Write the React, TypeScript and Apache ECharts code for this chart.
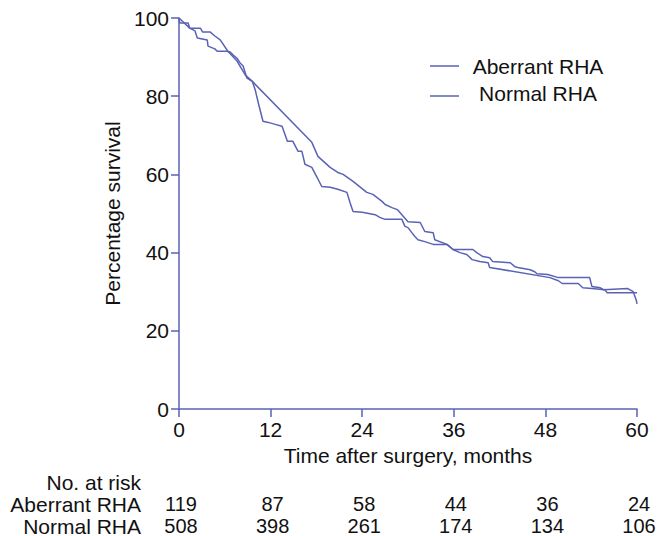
import React, { useEffect, useRef } from "react";
import * as echarts from "echarts";

const aberrantMonths = [0, 1.4, 2.8, 3.1, 4.1, 4.7, 5.4, 6.4, 7.6, 8.7, 9.6, 17.4, 18.2, 19.8, 20.8, 21.5, 22.8, 24.6, 25.4, 26.6, 27.0, 27.9, 28.6, 29.2, 30.0, 31.6, 32.2, 33.3, 33.5, 35.1, 35.9, 36.8, 37.7, 38.4, 39.4, 40.5, 40.7, 48.6, 49.7, 50.2, 52.3, 52.9, 54.1, 55.8, 56.1, 60];
const aberrantSurvival = [100, 97.4, 97.4, 96.4, 96.4, 95.4, 94.4, 91.5, 89.0, 85.4, 83.8, 68.2, 64.6, 61.8, 60.5, 60.0, 58.2, 55.4, 54.9, 53.1, 52.3, 51.5, 51.0, 49.7, 47.9, 47.7, 45.4, 45.1, 43.3, 42.1, 40.8, 40.0, 39.5, 38.2, 37.7, 37.4, 36.2, 33.6, 32.8, 32.1, 32.1, 31.0, 30.8, 30.5, 29.7, 29.7];

const normalMonths = [0, 0.1, 1.2, 1.4, 2.1, 2.4, 3.7, 3.8, 4.7, 5.0, 6.3, 6.7, 7.1, 7.6, 8.0, 8.4, 8.9, 9.6, 10.0, 10.4, 11.0, 11.7, 12.6, 13.5, 14.2, 14.9, 15.6, 16.1, 16.5, 17.4, 18.1, 18.7, 19.8, 20.8, 22.0, 22.4, 22.8, 24.0, 25.7, 26.3, 27.0, 29.2, 29.6, 30.0, 30.5, 30.9, 31.3, 32.2, 33.3, 35.1, 35.9, 38.5, 39.0, 39.8, 40.7, 41.1, 43.4, 44.0, 44.4, 46.0, 46.6, 46.9, 48.3, 49.7, 53.8, 54.1, 55.2, 55.6, 58.8, 59.5, 59.9, 60];
const normalSurvival = [100, 98.7, 98.7, 97.4, 96.7, 94.9, 94.4, 92.8, 92.1, 91.5, 91.5, 91.3, 90.5, 89.7, 88.5, 87.7, 84.6, 83.8, 81.5, 78.2, 73.6, 73.3, 72.8, 72.3, 68.5, 68.5, 65.9, 65.9, 62.6, 61.8, 59.2, 56.9, 56.7, 56.2, 55.4, 52.8, 50.5, 50.3, 49.7, 49.0, 48.5, 48.5, 46.7, 46.4, 45.1, 44.1, 43.3, 42.8, 42.1, 42.1, 40.8, 40.8, 40.0, 39.0, 38.7, 37.7, 37.4, 36.4, 36.2, 35.6, 35.1, 34.6, 34.4, 33.6, 33.6, 31.3, 31.0, 30.5, 30.8, 30.0, 27.9, 26.9];

const seriesNames = ["Aberrant RHA", "Normal RHA"];
const riskTimes = [0, 12, 24, 36, 48, 60];
const aberrantAtRisk = [119, 87, 58, 44, 36, 24];
const normalAtRisk = [508, 398, 261, 174, 134, 106];

const COLOR = "#5a62b6";
const FONT = "Liberation Sans, Arial, Helvetica, sans-serif";
const FS = 21;
const TFS = 20;

export default function App() {
  const ref = useRef<HTMLDivElement>(null);
  useEffect(() => {
    if (!ref.current) return;
    const chart = echarts.init(ref.current, null, { renderer: "svg" });
    const zip = (xs: number[], ys: number[]) => xs.map((x, i) => [x, ys[i]]);
    chart.setOption({
      animation: false,
      backgroundColor: "#fff",
      grid: { left: 179, right: 26, top: 18, bottom: 127 },
      xAxis: {
        type: "value",
        min: 0,
        max: 60,
        interval: 12,
        name: "Time after surgery, months",
        nameLocation: "middle",
        nameGap: 33,
        nameTextStyle: { color: "#111", fontSize: FS, fontFamily: FONT },
        axisLine: { lineStyle: { color: COLOR, width: 1.5 } },
        axisTick: { show: true, length: 8, lineStyle: { color: COLOR, width: 1.5 } },
        axisLabel: { color: "#111", fontSize: FS, fontFamily: FONT, margin: 10 },
        splitLine: { show: false },
      },
      yAxis: {
        type: "value",
        min: 0,
        max: 100,
        interval: 20,
        name: "Percentage survival",
        nameLocation: "middle",
        nameGap: 50,
        nameTextStyle: { color: "#111", fontSize: FS, fontFamily: FONT },
        axisLine: { show: true, lineStyle: { color: COLOR, width: 1.5 } },
        axisTick: { show: true, length: 8, lineStyle: { color: COLOR, width: 1.5 } },
        axisLabel: { color: "#111", fontSize: FS, fontFamily: FONT, margin: 10 },
        splitLine: { show: false },
      },
      series: [
        {
          name: seriesNames[0],
          type: "line",
          data: zip(aberrantMonths, aberrantSurvival),
          showSymbol: false,
          lineStyle: { color: COLOR, width: 1.5 },
          itemStyle: { color: COLOR },
        },
        {
          name: seriesNames[1],
          type: "line",
          data: zip(normalMonths, normalSurvival),
          showSymbol: false,
          lineStyle: { color: COLOR, width: 1.5 },
          itemStyle: { color: COLOR },
        },
      ],
    });

    const xs = riskTimes.map((t) => chart.convertToPixel({ xAxisIndex: 0 }, t) as number);
    const txt = (x: number, y: number, s: string, align: string, fs: number) => ({
      type: "text",
      x,
      y,
      style: { text: s, fill: "#111", font: `${fs}px ${FONT}`, textAlign: align, textVerticalAlign: "middle" },
    });
    const elements: any[] = [];
    // legend
    [66, 96].forEach((y, i) => {
      elements.push({ type: "line", shape: { x1: 430, y1: y, x2: 459, y2: y }, style: { stroke: COLOR, lineWidth: 1.5 } });
      elements.push(txt(538, y - (i === 1 ? 3 : 0), seriesNames[i], "center", FS));
    });
    const rowY = [482, 504, 526];
    elements.push(txt(141, rowY[0], "No. at risk", "right", FS));
    elements.push(txt(141, rowY[1], seriesNames[0], "right", FS));
    elements.push(txt(141, rowY[2], seriesNames[1], "right", FS));
    xs.forEach((x, i) => {
      elements.push(txt(x + 2, rowY[1], String(aberrantAtRisk[i]), "center", TFS));
      elements.push(txt(x + 2, rowY[2], String(normalAtRisk[i]), "center", TFS));
    });
    chart.setOption({ graphic: { elements } });
    return () => chart.dispose();
  }, []);
  return (
    <div
      ref={ref}
      style={{ position: "fixed", left: 0, top: 0, width: 663, height: 536, background: "#fff" }}
    />
  );
}
